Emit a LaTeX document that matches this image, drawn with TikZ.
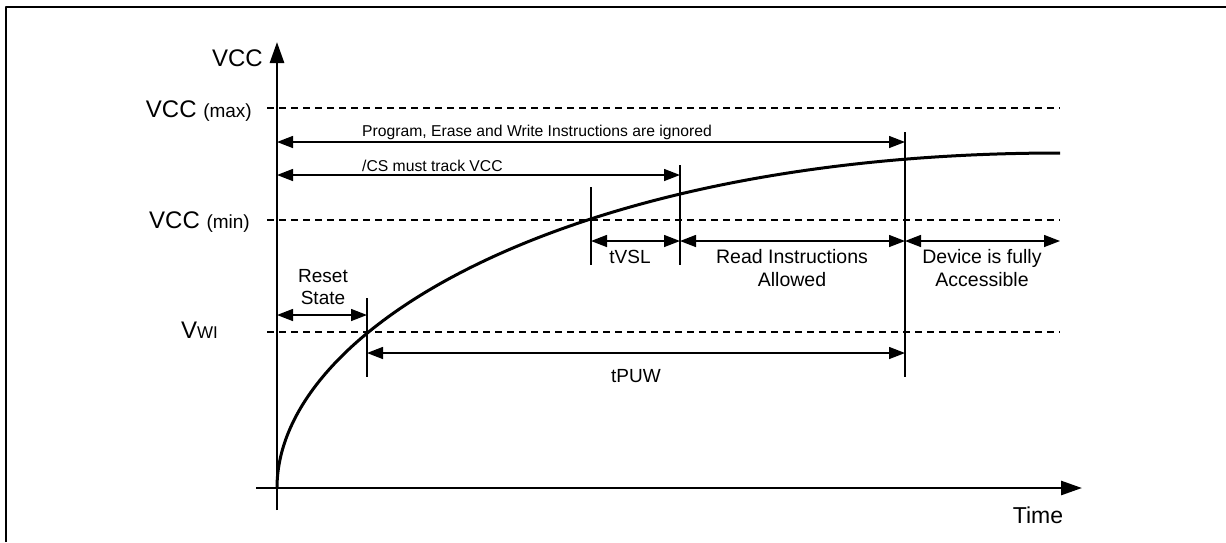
\documentclass[tikz,border=0pt]{standalone}
\usepackage{fontspec}
\setmainfont{Liberation Sans}
\usetikzlibrary{arrows.meta}
\usetikzlibrary{positioning}

\tikzset{
  lbl/.style={font=\fontsize{19}{22}\selectfont,inner sep=0pt,align=center},
  big/.style={font=\fontsize{24}{28}\selectfont,inner sep=0pt},
  level/.style={line width=1.5pt,dash pattern=on 7pt off 5pt},
  dim/.style={line width=1.4pt,<->},
  edge/.style={line width=1.3pt},
  axis/.style={line width=2.7pt,-{Triangle[length=21pt,width=14pt]}}
}

\begin{document}
\begin{tikzpicture}[line cap=butt,line join=round,>={Triangle[length=16pt,width=12pt]},x=1pt,y=-1pt]
\useasboundingbox (0,0) rectangle (1226,542);
\draw [line width=2.5pt] (6,542)-- (6,7)-- (1226,7);
\draw [axis] (277,510)-- (277,42);
\draw [axis] (256,488)-- (1082,488);
\draw [level] (267,108)-- (1060,108);
\draw [level] (267,220)-- (1060,220);
\draw [level] (267,332)-- (1060,332);
\node [big,anchor=base east] (vcc) at (263,66) {VCC};
\node [big,anchor=base east] (vmax) at (252,117) {VCC {\fontsize{19}{22}\selectfont(max)}};
\node [big,anchor=base east] (vmin) at (250,228) {VCC {\fontsize{19}{22}\selectfont(min)}};
\node [big,anchor=base east] (vwi) at (218,338) {V{\fontsize{17}{20}\selectfont WI}};
\node [big,font=\fontsize{23}{26}\selectfont] (time) at (1038,515) {Time};
\coordinate (start) at (277,488);
\coordinate (stop) at (1060,153);
\draw [line width=3pt] (start) .. controls (277,325) and (577,153) .. (stop);
\draw [edge] (367,298)-- (367,377);
\draw [edge] (591,187)-- (591,265);
\draw [edge] (680,165)-- (680,265);
\draw [edge] (905,132)-- (905,377);
\coordinate (pgmL) at (277,142);
\coordinate (pgmR) at (905,142);
\coordinate (csL) at (277,175);
\coordinate (csR) at (680,175);
\coordinate (rstL) at (277,315);
\coordinate (rstR) at (367,315);
\coordinate (puwL) at (367,353);
\coordinate (puwR) at (905,353);
\coordinate (vslL) at (591,241);
\coordinate (vslR) at (680,241);
\coordinate (rdR) at (905,241);
\coordinate (devR) at (1060,241);
\draw [dim] (pgmL)-- (pgmR);
\draw [dim] (csL)-- (csR);
\draw [dim] (rstL)-- (rstR);
\draw [dim] (puwL)-- (puwR);
\draw [dim] (vslL)-- (vslR);
\draw [dim] (vslR)-- (rdR);
\draw [dim] (rdR)-- (devR);
\node [lbl,font=\fontsize{15.7}{19}\selectfont,anchor=base west] (pgm) at (362,136) {Program, Erase and Write Instructions are ignored};
\node [lbl,font=\fontsize{15.7}{19}\selectfont,anchor=base west] (cs) at (362,171) {/CS must track VCC};
\node [lbl] (rst) at (323,287) {Reset\\State};
\node [lbl] (vsl) at (630,257) {tVSL};
\node [lbl,font=\fontsize{19.5}{23}\selectfont] (rd) at (792,268.5) {Read Instructions\\Allowed};
\node [lbl,font=\fontsize{19.5}{23}\selectfont] (dev) at (982,268.5) {Device is fully\\Accessible};
\node [lbl] (puw) at (636,376) {tPUW};
\end{tikzpicture}
\end{document}
